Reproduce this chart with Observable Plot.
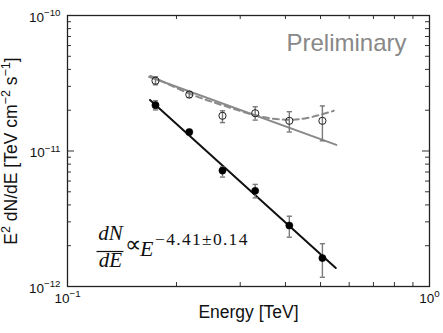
<!DOCTYPE html>
<html><head><meta charset="utf-8">
<script src="https://cdn.jsdelivr.net/npm/d3@7"></script>
<script src="https://cdn.jsdelivr.net/npm/@observablehq/plot@0.6"></script>
<style>body{margin:0;background:#fff} #c{width:443px;height:333px}</style>
</head><body><div id="c"></div>
<script>
// ---- data ----
const energy   = [0.175, 0.217, 0.268, 0.330, 0.410, 0.506];
const fluxOn   = [2.18e-11, 1.38e-11, 7.17e-12, 5.08e-12, 2.82e-12, 1.62e-12];
const fluxOnLo = [2.01e-11, 1.32e-11, 6.42e-12, 4.51e-12, 2.31e-12, 1.17e-12];
const fluxOnHi = [2.35e-11, 1.44e-11, 7.61e-12, 5.67e-12, 3.30e-12, 2.07e-12];
const fluxOff   = [3.30e-11, 2.61e-11, 1.82e-11, 1.90e-11, 1.67e-11, 1.67e-11];
const fluxOffLo = [3.08e-11, 2.48e-11, 1.62e-11, 1.69e-11, 1.38e-11, 1.19e-11];
const fluxOffHi = [3.53e-11, 2.75e-11, 1.98e-11, 2.12e-11, 1.95e-11, 2.15e-11];
const fitBlackE = [0.169, 0.551];
const fitBlackF = [2.38e-11, 1.37e-12];
const fitGrayE = [0.168, 0.553];
const fitGrayF = [3.53e-11, 1.11e-11];
const curveE = [0.1696, 0.2187, 0.2703, 0.3342, 0.3707, 0.4130, 0.4592, 0.5440];
const curveF = [3.59e-11, 2.63e-11, 2.16e-11, 1.82e-11, 1.73e-11, 1.70e-11, 1.75e-11, 1.98e-11];
const xMajor = [0.1, 1];
const xMajorLabels = ["10^{−1}", "10^{0}"];
const yMajor = [1e-12, 1e-11, 1e-10];
const yMajorLabels = ["10^{−12}", "10^{−11}", "10^{−10}"];
const xMinor = [0.2, 0.3, 0.4, 0.5, 0.6, 0.7, 0.8, 0.9];
const yMinor = [2e-12, 3e-12, 4e-12, 5e-12, 6e-12, 7e-12, 8e-12, 9e-12,
                2e-11, 3e-11, 4e-11, 5e-11, 6e-11, 7e-11, 8e-11, 9e-11];
const yInnerMajor = [1e-11];
const xLabel = "Energy [TeV]";
const yLabel = "E^{2} dN/dE [TeV cm^{−2} s^{−1}]";
const watermark = "Preliminary";

// ---- tables built from arrays ----
const on = energy.map((e, i) => ({e, f: fluxOn[i], lo: fluxOnLo[i], hi: fluxOnHi[i]}));
const off = energy.map((e, i) => ({e, f: fluxOff[i], lo: fluxOffLo[i], hi: fluxOffHi[i]}));
const fitBlack = fitBlackE.map((e, i) => ({e, f: fitBlackF[i]}));
const fitGray = fitGrayE.map((e, i) => ({e, f: fitGrayF[i]}));
const curve = curveE.map((e, i) => ({e, f: curveF[i]}));

const W = 443, H = 333, mL = 67, mR = 14, mT = 15, mB = 47;
const fw = W - mL - mR, fh = H - mT - mB;
const sans = "'Liberation Sans', Arial, Helvetica, sans-serif";
const serif = "'Liberation Serif', 'Times New Roman', serif";
const errCol = "#7a7a7a", grayCol = "#8a8a8a";
const cap = {draw(ctx, size) { const w = Math.sqrt(size / Math.PI); ctx.moveTo(-w, 0); ctx.lineTo(w, 0); }};

const chart = Plot.plot({
  width: W, height: H, marginLeft: mL, marginRight: mR, marginTop: mT, marginBottom: mB,
  style: {fontFamily: sans, background: "#fff", overflow: "visible"},
  x: {type: "log", domain: [0.1, 1], axis: null},
  y: {type: "log", domain: [1e-12, 1e-10], axis: null},
  marks: [
    // inward minor/major ticks on all four sides
    Plot.tickX(xMinor, {x: d => d, insetTop: fh - 4, stroke: "#333", strokeWidth: 1}),
    Plot.tickX(xMinor, {x: d => d, insetBottom: fh - 4, stroke: "#333", strokeWidth: 1}),
    Plot.tickY(yMinor, {y: d => d, insetRight: fw - 4, stroke: "#333", strokeWidth: 1}),
    Plot.tickY(yMinor, {y: d => d, insetLeft: fw - 4, stroke: "#333", strokeWidth: 1}),
    Plot.tickY(yInnerMajor, {y: d => d, insetRight: fw - 7, stroke: "#333", strokeWidth: 1}),
    Plot.tickY(yInnerMajor, {y: d => d, insetLeft: fw - 7, stroke: "#333", strokeWidth: 1}),
    // fits
    Plot.line(curve, {x: "e", y: "f", stroke: grayCol, strokeWidth: 2, strokeDasharray: "6,4", curve: "catmull-rom"}),
    Plot.line(fitGray, {x: "e", y: "f", stroke: grayCol, strokeWidth: 2}),
    Plot.line(fitBlack, {x: "e", y: "f", stroke: "#111", strokeWidth: 2}),
    // error bars
    Plot.ruleX(off, {x: "e", y1: "lo", y2: "hi", stroke: errCol, strokeWidth: 1.4}),
    Plot.dot(off, {x: "e", y: "lo", r: 2.6, symbol: cap, fill: "none", stroke: errCol, strokeWidth: 1.4}),
    Plot.dot(off, {x: "e", y: "hi", r: 2.6, symbol: cap, fill: "none", stroke: errCol, strokeWidth: 1.4}),
    Plot.ruleX(on, {x: "e", y1: "lo", y2: "hi", stroke: errCol, strokeWidth: 1.4}),
    Plot.dot(on, {x: "e", y: "lo", r: 2.6, symbol: cap, fill: "none", stroke: errCol, strokeWidth: 1.4}),
    Plot.dot(on, {x: "e", y: "hi", r: 2.6, symbol: cap, fill: "none", stroke: errCol, strokeWidth: 1.4}),
    // markers
    Plot.dot(off, {x: "e", y: "f", r: 3.6, fill: "none", stroke: "#222", strokeWidth: 1}),
    Plot.dot(on, {x: "e", y: "f", r: 3.6, fill: "#000", stroke: "#000", strokeWidth: 0.5}),
    Plot.frame({stroke: "#222", strokeWidth: 1.3}),
    // tick labels
    Plot.text(yMajor, {y: d => d, frameAnchor: "left", text: (d, i) => yMajorLabels[i], textAnchor: "end", dx: -7, dy: 2, fontSize: 13.5, fill: "#111"}),
    Plot.text(xMajor, {x: d => d, frameAnchor: "bottom", text: (d, i) => xMajorLabels[i], textAnchor: "middle", dx: 0, dy: 16, fontSize: 13.5, fill: "#111"}),
    // axis labels
    Plot.text([xLabel], {frameAnchor: "bottom", text: d => d, textAnchor: "middle", dy: 31, fontSize: 17.5, fill: "#111"}),
    Plot.text([yLabel], {frameAnchor: "left", text: d => d, textAnchor: "middle", lineAnchor: "middle", rotate: -90, dx: -56, dy: 0, fontSize: 17.5, fill: "#111"}),
    Plot.text([watermark], {frameAnchor: "top-right", text: d => d, textAnchor: "end", lineAnchor: "middle", dx: -23, dy: 28, fontSize: 24, fill: "#888"}),
    // formula dN/dE ∝ E^{...}
    Plot.text(["dN"], {frameAnchor: "bottom-left", text: d => d, textAnchor: "middle", dx: 43, dy: -47, fontSize: 21, fontStyle: "italic", fontFamily: serif, fill: "#111"}),
    Plot.text(["dE"], {frameAnchor: "bottom-left", text: d => d, textAnchor: "middle", dx: 43, dy: -20, fontSize: 21, fontStyle: "italic", fontFamily: serif, fill: "#111"}),
    Plot.text(["∝"], {frameAnchor: "bottom-left", text: d => d, textAnchor: "middle", dx: 65, dy: -35, fontSize: 23, fontFamily: serif, fill: "#111"}),
    Plot.text(["E"], {frameAnchor: "bottom-left", text: d => d, textAnchor: "start", dx: 72.5, dy: -31, fontSize: 22, fontStyle: "italic", fontFamily: serif, fill: "#111"}),
    Plot.text(["−4.41±0.14"], {frameAnchor: "bottom-left", text: d => d, textAnchor: "start", dx: 87.5, dy: -42, fontSize: 17.5, fontFamily: serif, fill: "#111"})
  ]
});
document.getElementById("c").appendChild(chart);

// fraction bar
d3.select(chart).append("line")
  .attr("x1", mL + 29.5).attr("x2", mL + 56.5)
  .attr("y1", H - mB - 34.5).attr("y2", H - mB - 34.5)
  .attr("stroke", "#111").attr("stroke-width", 1.2);

// exponent letter spacing
d3.select(chart).selectAll("text").filter(function () { return this.textContent === "−4.41±0.14"; })
  .attr("letter-spacing", "1.3px");

// turn ^{...} into raised tspans
d3.select(chart).selectAll("text").each(function () {
  const t = this.textContent;
  if (!t.includes("^{")) return;
  const fs = parseFloat(getComputedStyle(this).fontSize) || 13;
  const shift = fs * 0.42;
  const parts = t.split(/(\^\{[^}]*\})/).filter(p => p);
  this.textContent = "";
  let raised = false;
  for (const p of parts) {
    const ts = document.createElementNS("http://www.w3.org/2000/svg", "tspan");
    if (p.startsWith("^{")) {
      ts.textContent = p.slice(2, -1);
      ts.setAttribute("font-size", (fs * 0.72) + "px");
      ts.setAttribute("dy", -shift);
      raised = true;
    } else {
      ts.textContent = p;
      if (raised) ts.setAttribute("dy", shift);
      raised = false;
    }
    this.appendChild(ts);
  }
});
</script>
</body></html>
